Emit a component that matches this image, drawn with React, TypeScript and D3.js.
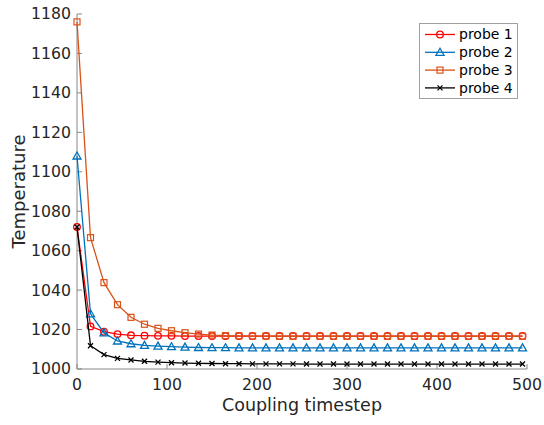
import React from "react";
import * as d3 from "d3";

const steps: number[] = d3.range(0, 496, 15);
const probe1: number[] = [1072, 1021.6, 1018.9, 1017.7, 1017.1, 1016.9, 1016.8, 1016.8, 1016.7, 1016.7, 1016.7, 1016.7, 1016.7, 1016.7, 1016.7, 1016.7, 1016.7, 1016.7, 1016.7, 1016.7, 1016.7, 1016.7, 1016.7, 1016.7, 1016.7, 1016.7, 1016.7, 1016.7, 1016.7, 1016.7, 1016.7, 1016.7, 1016.7, 1016.7];
const probe2: number[] = [1108, 1028, 1018.3, 1014.2, 1012.8, 1012.0, 1011.6, 1011.3, 1011.1, 1010.9, 1010.8, 1010.8, 1010.7, 1010.7, 1010.7, 1010.7, 1010.7, 1010.7, 1010.7, 1010.7, 1010.7, 1010.7, 1010.7, 1010.7, 1010.7, 1010.7, 1010.7, 1010.7, 1010.7, 1010.7, 1010.7, 1010.7, 1010.7, 1010.7];
const probe3: number[] = [1176, 1066.6, 1043.8, 1032.6, 1026.2, 1022.7, 1020.6, 1019.4, 1018.4, 1017.7, 1017.2, 1016.9, 1016.8, 1016.7, 1016.7, 1016.6, 1016.6, 1016.6, 1016.6, 1016.6, 1016.6, 1016.6, 1016.6, 1016.6, 1016.6, 1016.6, 1016.6, 1016.6, 1016.6, 1016.6, 1016.6, 1016.6, 1016.6, 1016.6];
const probe4: number[] = [1072, 1011.8, 1007.3, 1005.4, 1004.6, 1003.9, 1003.5, 1003.2, 1003.0, 1002.9, 1002.8, 1002.7, 1002.7, 1002.6, 1002.6, 1002.6, 1002.6, 1002.5, 1002.5, 1002.5, 1002.5, 1002.5, 1002.5, 1002.5, 1002.5, 1002.5, 1002.5, 1002.5, 1002.5, 1002.5, 1002.5, 1002.5, 1002.5, 1002.5];

const seriesNames = ["probe 1", "probe 2", "probe 3", "probe 4"];
const seriesColors = ["#FF0000", "#0072BD", "#D95319", "#000000"];
const seriesMarkers = ["circle", "triangle", "square", "x"];
const xTicks = [0, 100, 200, 300, 400, 500];
const yTicks = [1000, 1020, 1040, 1060, 1080, 1100, 1120, 1140, 1160, 1180];

const W = 544, H = 425;
const left = 77, right = 527, top = 14, bottom = 369;
const font = "DejaVu Sans, sans-serif";
const textColor = "#262626";
const axisColor = "#888888";

function Marker({ kind, x, y, color }: { kind: string; x: number; y: number; color: string }) {
  if (kind === "circle") return <circle cx={x} cy={y} r={3.3} fill="none" stroke={color} strokeWidth={1.3} />;
  if (kind === "triangle") {
    const s = 4;
    return <path d={`M${x},${y - s} L${x + s},${y + s * 0.75} L${x - s},${y + s * 0.75} Z`} fill="none" stroke={color} strokeWidth={1.3} />;
  }
  if (kind === "square") return <rect x={x - 3} y={y - 3} width={6} height={6} fill="none" stroke={color} strokeWidth={1.2} />;
  const s = 2.5;
  return <path d={`M${x - s},${y - s} L${x + s},${y + s} M${x - s},${y + s} L${x + s},${y - s}`} stroke={color} strokeWidth={1.3} />;
}

export default function App() {
  const x = d3.scaleLinear().domain([0, 500]).range([left, right]);
  const y = d3.scaleLinear().domain([1000, 1180]).range([bottom, top]);
  const data = [probe1, probe2, probe3, probe4];
  const line = d3.line<number>().x((_, i) => x(steps[i])).y((d) => y(d));

  return (
    <svg width={W} height={H} style={{ position: "absolute", left: 0, top: 0, background: "#fff" }}>
      <rect width={W} height={H} fill="#fff" />
      <line x1={left} y1={top} x2={left} y2={bottom} stroke={axisColor} strokeWidth={1} />
      <line x1={left} y1={bottom} x2={right} y2={bottom} stroke={axisColor} strokeWidth={1} />
      {yTicks.map((t) => (
        <g key={"y" + t}>
          <line x1={left} x2={left + 5} y1={y(t)} y2={y(t)} stroke={axisColor} />
          <text x={left - 6} y={y(t)} dy="0.35em" textAnchor="end" fontFamily={font} fontSize={15.7} fill={textColor}>{t}</text>
        </g>
      ))}
      {xTicks.map((t) => (
        <g key={"x" + t}>
          <line x1={x(t)} x2={x(t)} y1={bottom} y2={bottom - 5} stroke={axisColor} />
          <text x={x(t)} y={390} textAnchor="middle" fontFamily={font} fontSize={15.7} fill={textColor}>{t}</text>
        </g>
      ))}
      <text x={(left + right) / 2} y={411} textAnchor="middle" fontFamily={font} fontSize={17.5} fill={textColor}>Coupling timestep</text>
      <text transform={`translate(25,${(top + bottom) / 2}) rotate(-90)`} textAnchor="middle" fontFamily={font} fontSize={18} fill={textColor}>Temperature</text>
      {data.map((vals, si) => (
        <g key={"s" + si}>
          <path d={line(vals) || ""} fill="none" stroke={seriesColors[si]} strokeWidth={1.3} />
          {vals.map((v, i) => (
            <Marker key={i} kind={seriesMarkers[si]} x={x(steps[i])} y={y(v)} color={seriesColors[si]} />
          ))}
        </g>
      ))}
      <rect x={419.5} y={23.5} width={98} height={75} fill="#fff" stroke="#a0a0a0" strokeWidth={1} />
      {seriesNames.map((n, i) => {
        const ly = 34.5 + i * 17.8;
        return (
          <g key={"l" + i}>
            <line x1={425} x2={455} y1={ly} y2={ly} stroke={seriesColors[i]} strokeWidth={1.3} />
            <Marker kind={seriesMarkers[i]} x={440} y={ly} color={seriesColors[i]} />
            <text x={459} y={ly} dy="0.35em" fontFamily={font} fontSize={14} fill="#000">{n}</text>
          </g>
        );
      })}
    </svg>
  );
}
